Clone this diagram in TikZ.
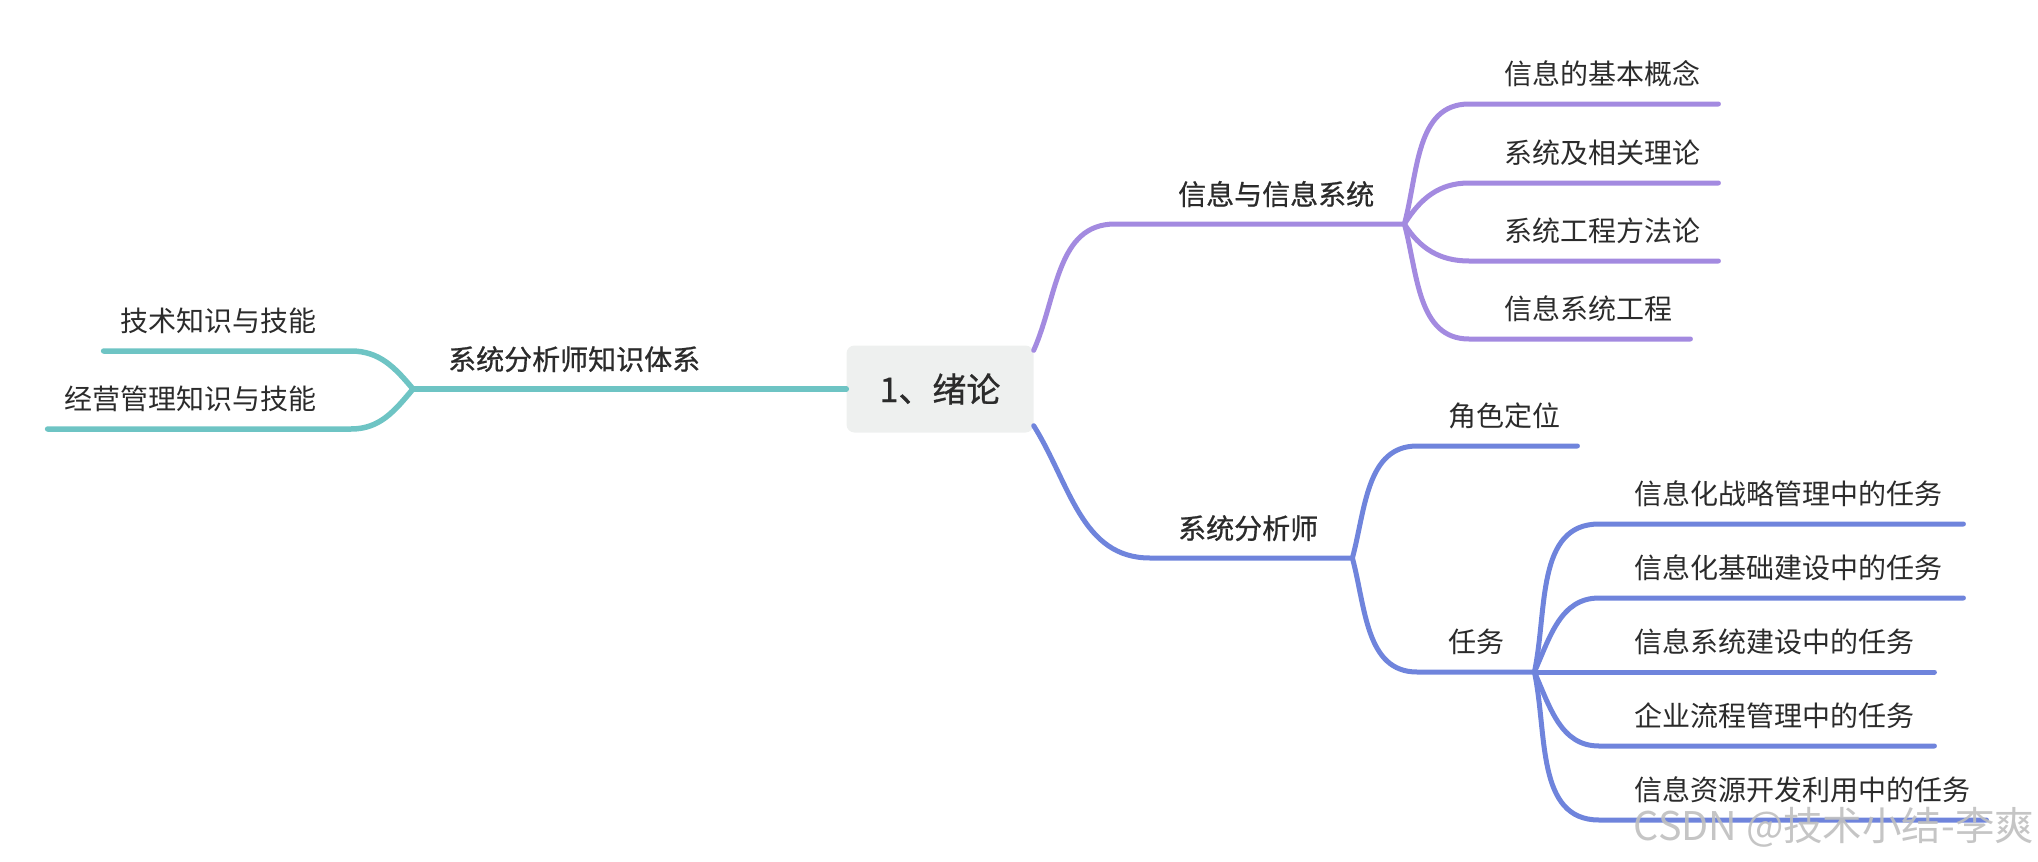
\documentclass[tikz,border=0pt]{standalone}
\usepackage{fontspec}
\newfontfamily\cjk{Noto Sans CJK SC}
\newfontfamily\cjkb[FakeBold=0.8]{Noto Sans CJK SC}
\definecolor{tealc}{HTML}{6EC4C4}
\definecolor{purpc}{HTML}{A38AE0}
\definecolor{bluec}{HTML}{6F84DC}
\definecolor{rootfill}{HTML}{EEF0EF}
\definecolor{inkc}{HTML}{2B2B2B}
\tikzset{
  topic/.style={inner sep=0pt,text height=24pt,text depth=19pt,text=inkc,font=\cjk\fontsize{28}{30}\selectfont},
  topicL/.style={topic,anchor=south west,align=left},
  topicR/.style={topic,anchor=south east,align=right},
  heavy/.style={font=\cjkb\fontsize{28}{30}\selectfont},
  tealln/.style={draw=tealc,line width=5.5pt},
  purpln/.style={draw=purpc,line width=5pt},
  blueln/.style={draw=bluec,line width=5pt},
}
\begin{document}
\begin{tikzpicture}[x=1pt,y=-1pt,line cap=round,line join=round]
\useasboundingbox (0,0) rectangle (2038,862);
% centre topic
\node (root) [fill=rootfill,rounded corners=8pt,minimum width=187pt,minimum height=87pt,inner sep=0pt,text=inkc,font=\cjkb\fontsize{34}{36}\selectfont] at (940,389) {1、绪论};

% left branch
\node (sysK) [topicL,heavy,text width=433pt] at (413,389) {\noindent\kern35pt系统分析师知识体系};
\node (tech) [topicR,text width=247pt] at (351,351) {技术知识与技能\kern34pt};
\node (mgmt) [topicR,text width=303pt] at (351,429) {经营管理知识与技能\kern34pt};
\draw [tealln] (root.west) -- (sysK.south west);
\draw [tealln] (sysK.south west) to [out=130,in=0] (tech.south east) -- (tech.south west);
\draw [tealln] (sysK.south west) to [out=-130,in=0] (mgmt.south east) -- (mgmt.south west);

% upper right branch
\node (info) [topicL,heavy,text width=289pt] at (1115,224) {\noindent\kern63pt信息与信息系统};
\node (info1) [topicL,text width=249pt] at (1469,104) {\noindent\kern35pt信息的基本概念};
\node (info2) [topicL,text width=249pt] at (1469,183) {\noindent\kern35pt系统及相关理论};
\node (info3) [topicL,text width=249pt] at (1469,261) {\noindent\kern35pt系统工程方法论};
\node (info4) [topicL,text width=221pt] at (1469,339) {\noindent\kern35pt信息系统工程};
\draw [purpln] ([yshift=-5pt]root.north east) to [out=66,in=180] (info.south west) -- (info.south east);
\draw [purpln] (info.south east) to [out=75,in=180] (info1.south west) -- (info1.south east);
\draw [purpln] (info.south east) to [out=58,in=180] (info2.south west) -- (info2.south east);
\draw [purpln] (info.south east) to [out=-58,in=180] (info3.south west) -- (info3.south east);
\draw [purpln] (info.south east) to [out=-75,in=180] (info4.south west) -- (info4.south east);

% lower right branch
\node (sysA) [topicL,heavy,text width=202pt] at (1150,558) {\noindent\kern28pt系统分析师};
\node (role) [topicL,text width=160pt] at (1417,446) {\noindent\kern31pt角色定位};
\node (task) [topicL,text width=117pt] at (1417,672) {\noindent\kern31pt任务};
\node (task1) [topicL,text width=364pt] at (1599,524) {\noindent\kern35pt信息化战略管理中的任务};
\node (task2) [topicL,text width=364pt] at (1599,598) {\noindent\kern35pt信息化基础建设中的任务};
\node (task3) [topicL,text width=335pt] at (1599,672) {\noindent\kern35pt信息系统建设中的任务};
\node (task4) [topicL,text width=335pt] at (1599,746) {\noindent\kern35pt企业流程管理中的任务};
\node (task5) [topicL,text width=387pt] at (1599,820) {\noindent\kern35pt信息资源开发利用中的任务};
\draw [blueln] ([yshift=7pt]root.south east) to [out=-58,in=180] (sysA.south west) -- (sysA.south east);
\draw [blueln] (sysA.south east) to [out=75,in=180] (role.south west) -- (role.south east);
\draw [blueln] (sysA.south east) to [out=-75,in=180] (task.south west) -- (task.south east);
\draw [blueln] (task.south east) to [out=78,in=180] (task1.south west) -- (task1.south east);
\draw [blueln] (task.south east) to [out=66,in=180] (task2.south west) -- (task2.south east);
\draw [blueln] (task.south east) -- (task3.south west) -- (task3.south east);
\draw [blueln] (task.south east) to [out=-66,in=180] (task4.south west) -- (task4.south east);
\draw [blueln] (task.south east) to [out=-78,in=180] (task5.south west) -- (task5.south east);

% watermark
\node (wm) [inner sep=0pt,text=black!25,opacity=0.9,font=\cjk\fontsize{39.5}{41}\selectfont] at (1834,827) {CSDN @技术小结-李爽};
\end{tikzpicture}
\end{document}
